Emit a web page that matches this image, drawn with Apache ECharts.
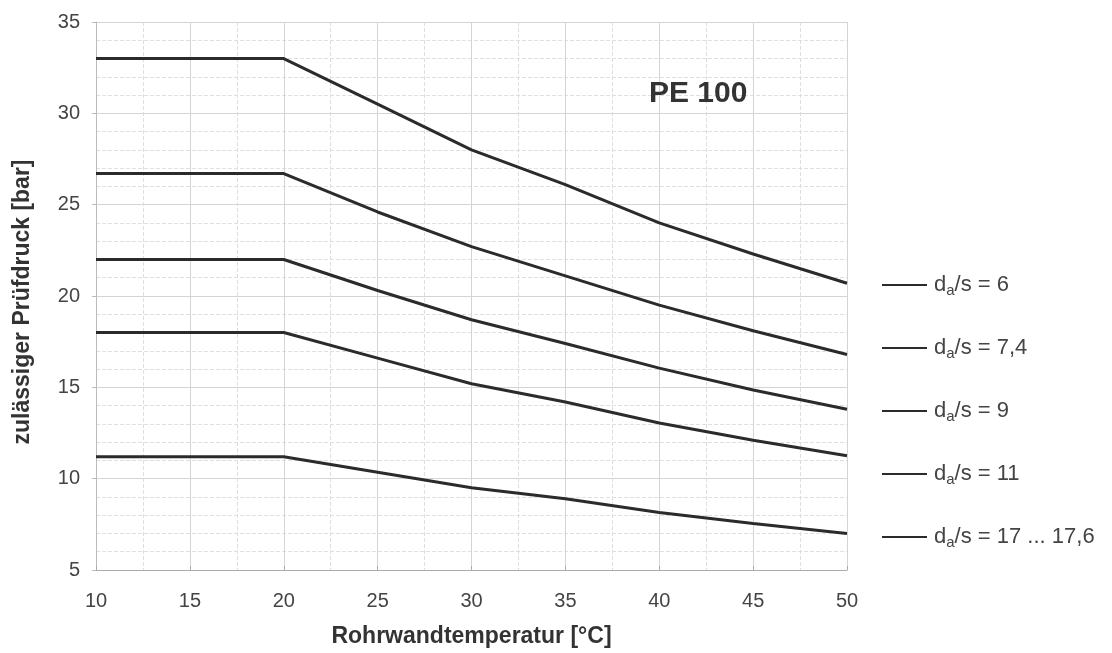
<!DOCTYPE html>
<html>
<head>
<meta charset="utf-8">
<script src="https://cdn.jsdelivr.net/npm/echarts@6/dist/echarts.min.js"></script>
<style>
  html, body { margin: 0; padding: 0; background: #fff; }
  #main { width: 1112px; height: 653px; }
</style>
</head>
<body>
<div id="main"></div>
<script>
// temperatures [°C]
var temps = [10, 20, 25, 30, 35, 40, 45, 50];
// d_a/s ratios shown in the legend
var ratios = ['6', '7,4', '9', '11', '17 ... 17,6'];
// permissible test pressure [bar], one row per ratio
var p6 = [33, 33, 30.5, 28, 26.1, 24, 22.3, 20.7];
var p74 = [26.7, 26.7, 24.6, 22.7, 21.1, 19.5, 18.1, 16.8];
var p9 = [22, 22, 20.3, 18.7, 17.4, 16.05, 14.85, 13.8];
var p11 = [18, 18, 16.6, 15.2, 14.2, 13.05, 12.1, 11.25];
var p17 = [11.2, 11.2, 10.35, 9.5, 8.9, 8.15, 7.55, 7.0];
var allP = [p6, p74, p9, p11, p17];

var chart = echarts.init(document.getElementById('main'));
var font = 'Liberation Sans, Arial, sans-serif';

var series = allP.map(function (vals, i) {
  return {
    name: ratios[i],
    type: 'line',
    data: temps.map(function (t, k) { return [t, vals[k]]; }),
    symbol: 'none',
    lineStyle: { color: '#2b2b2b', width: 3 },
    itemStyle: { color: '#2b2b2b' },
    z: 3
  };
});

var option = {
  backgroundColor: '#fff',
  animation: false,
  title: {
    text: 'PE 100',
    left: 644,
    top: 74,
    textStyle: { fontFamily: font, fontSize: 30, fontWeight: 'bold', color: '#333' }
  },
  legend: {
    orient: 'vertical',
    left: 877,
    top: 269,
    itemGap: 39,
    itemWidth: 45,
    itemHeight: 2,
    icon: 'rect',
    data: ratios,
    formatter: function (name) {
      return '{n|d}{s|a}{n|/s = ' + name + '}';
    },
    textStyle: {
      fontFamily: font,
      color: '#444',
      padding: [0, 0, 0, 2],
      rich: {
        n: { fontFamily: font, fontSize: 22, color: '#444', lineHeight: 26 },
        s: { fontFamily: font, fontSize: 15, color: '#444', lineHeight: 12, verticalAlign: 'bottom' }
      }
    }
  },
  grid: { left: 96, right: 265, top: 22, bottom: 80 },
  xAxis: {
    type: 'value',
    min: 10, max: 50, interval: 5,
    name: 'Rohrwandtemperatur [°C]',
    nameLocation: 'middle',
    nameGap: 55,
    nameTextStyle: { fontFamily: font, fontSize: 23, fontWeight: 'bold', color: '#333' },
    axisLine: { show: true, lineStyle: { color: '#aaa', width: 1 } },
    axisTick: { show: true, length: 4, inside: true, lineStyle: { color: '#aaa' } },
    axisLabel: { fontFamily: font, fontSize: 20, color: '#444', margin: 21 },
    splitLine: { show: true, lineStyle: { color: '#d4d4d4', width: 1 } },
    minorTick: { show: false, splitNumber: 2 },
    minorSplitLine: { show: true, lineStyle: { color: '#dedede', width: 1, type: 'dashed' } }
  },
  yAxis: {
    type: 'value',
    min: 5, max: 35, interval: 5,
    name: 'zulässiger Prüfdruck [bar]',
    nameLocation: 'middle',
    nameGap: 62,
    nameTextStyle: { fontFamily: font, fontSize: 23, fontWeight: 'bold', color: '#333', padding: [0, 12, 0, 0] },
    axisLine: { show: true, lineStyle: { color: '#bbb', width: 1 } },
    axisTick: { show: true, length: 4, lineStyle: { color: '#bbb' } },
    axisLabel: { fontFamily: font, fontSize: 20, color: '#444', margin: 16 },
    splitLine: { show: true, lineStyle: { color: '#d4d4d4', width: 1 } },
    minorTick: { show: false, splitNumber: 5 },
    minorSplitLine: { show: true, lineStyle: { color: '#e0e0e0', width: 1, type: 'dashed' } }
  },
  series: series
};

chart.setOption(option);
</script>
</body>
</html>
